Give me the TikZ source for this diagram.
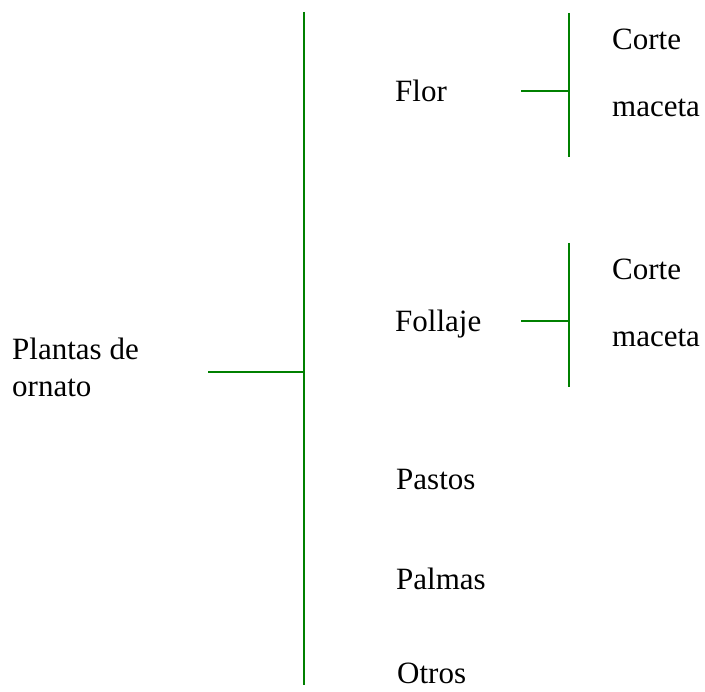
\documentclass[tikz,border=0pt]{standalone}
\usepackage{fontspec}
\setmainfont{Liberation Serif}
\definecolor{linegreen}{RGB}{0,128,0}
\begin{document}
\begin{tikzpicture}[x=1pt,y=-1pt,
  lbl/.style={anchor=base west,inner sep=0pt,font=\fontsize{31}{37}\selectfont},
  branch/.style={draw=linegreen,line width=1.6pt}]
\useasboundingbox (0,0) rectangle (705,692);
% labels
\node[lbl,align=left,anchor=base west] (root) at (12,397) {Plantas de\\ornato};
\node[lbl] (flor) at (395,102) {Flor};
\node[lbl] (corte1) at (612,50) {Corte};
\node[lbl] (maceta1) at (612,117) {maceta};
\node[lbl] (follaje) at (395,332) {Follaje};
\node[lbl] (corte2) at (612,280) {Corte};
\node[lbl] (maceta2) at (612,347) {maceta};
\node[lbl] (pastos) at (396,490) {Pastos};
\node[lbl] (palmas) at (396,590) {Palmas};
\node[lbl] (otros) at (397,684) {Otros};
% tree coordinates
\coordinate (rootend) at (208,372);
\coordinate (mainjoin) at (304,372);
\coordinate (maintop) at (304,12);
\coordinate (mainbot) at (304,685);
\coordinate (florend) at (521,91);
\coordinate (florjoin) at (569,91);
\coordinate (flortop) at (569,13);
\coordinate (florbot) at (569,157);
\coordinate (follend) at (521,321);
\coordinate (folljoin) at (569,321);
\coordinate (folltop) at (569,243);
\coordinate (follbot) at (569,387);
% connectors
\draw[branch] (rootend) -- (mainjoin);
\draw[branch] (maintop) -- (mainbot);
\draw[branch] (florend) -- (florjoin);
\draw[branch] (flortop) -- (florbot);
\draw[branch] (follend) -- (folljoin);
\draw[branch] (folltop) -- (follbot);
\end{tikzpicture}
\end{document}
